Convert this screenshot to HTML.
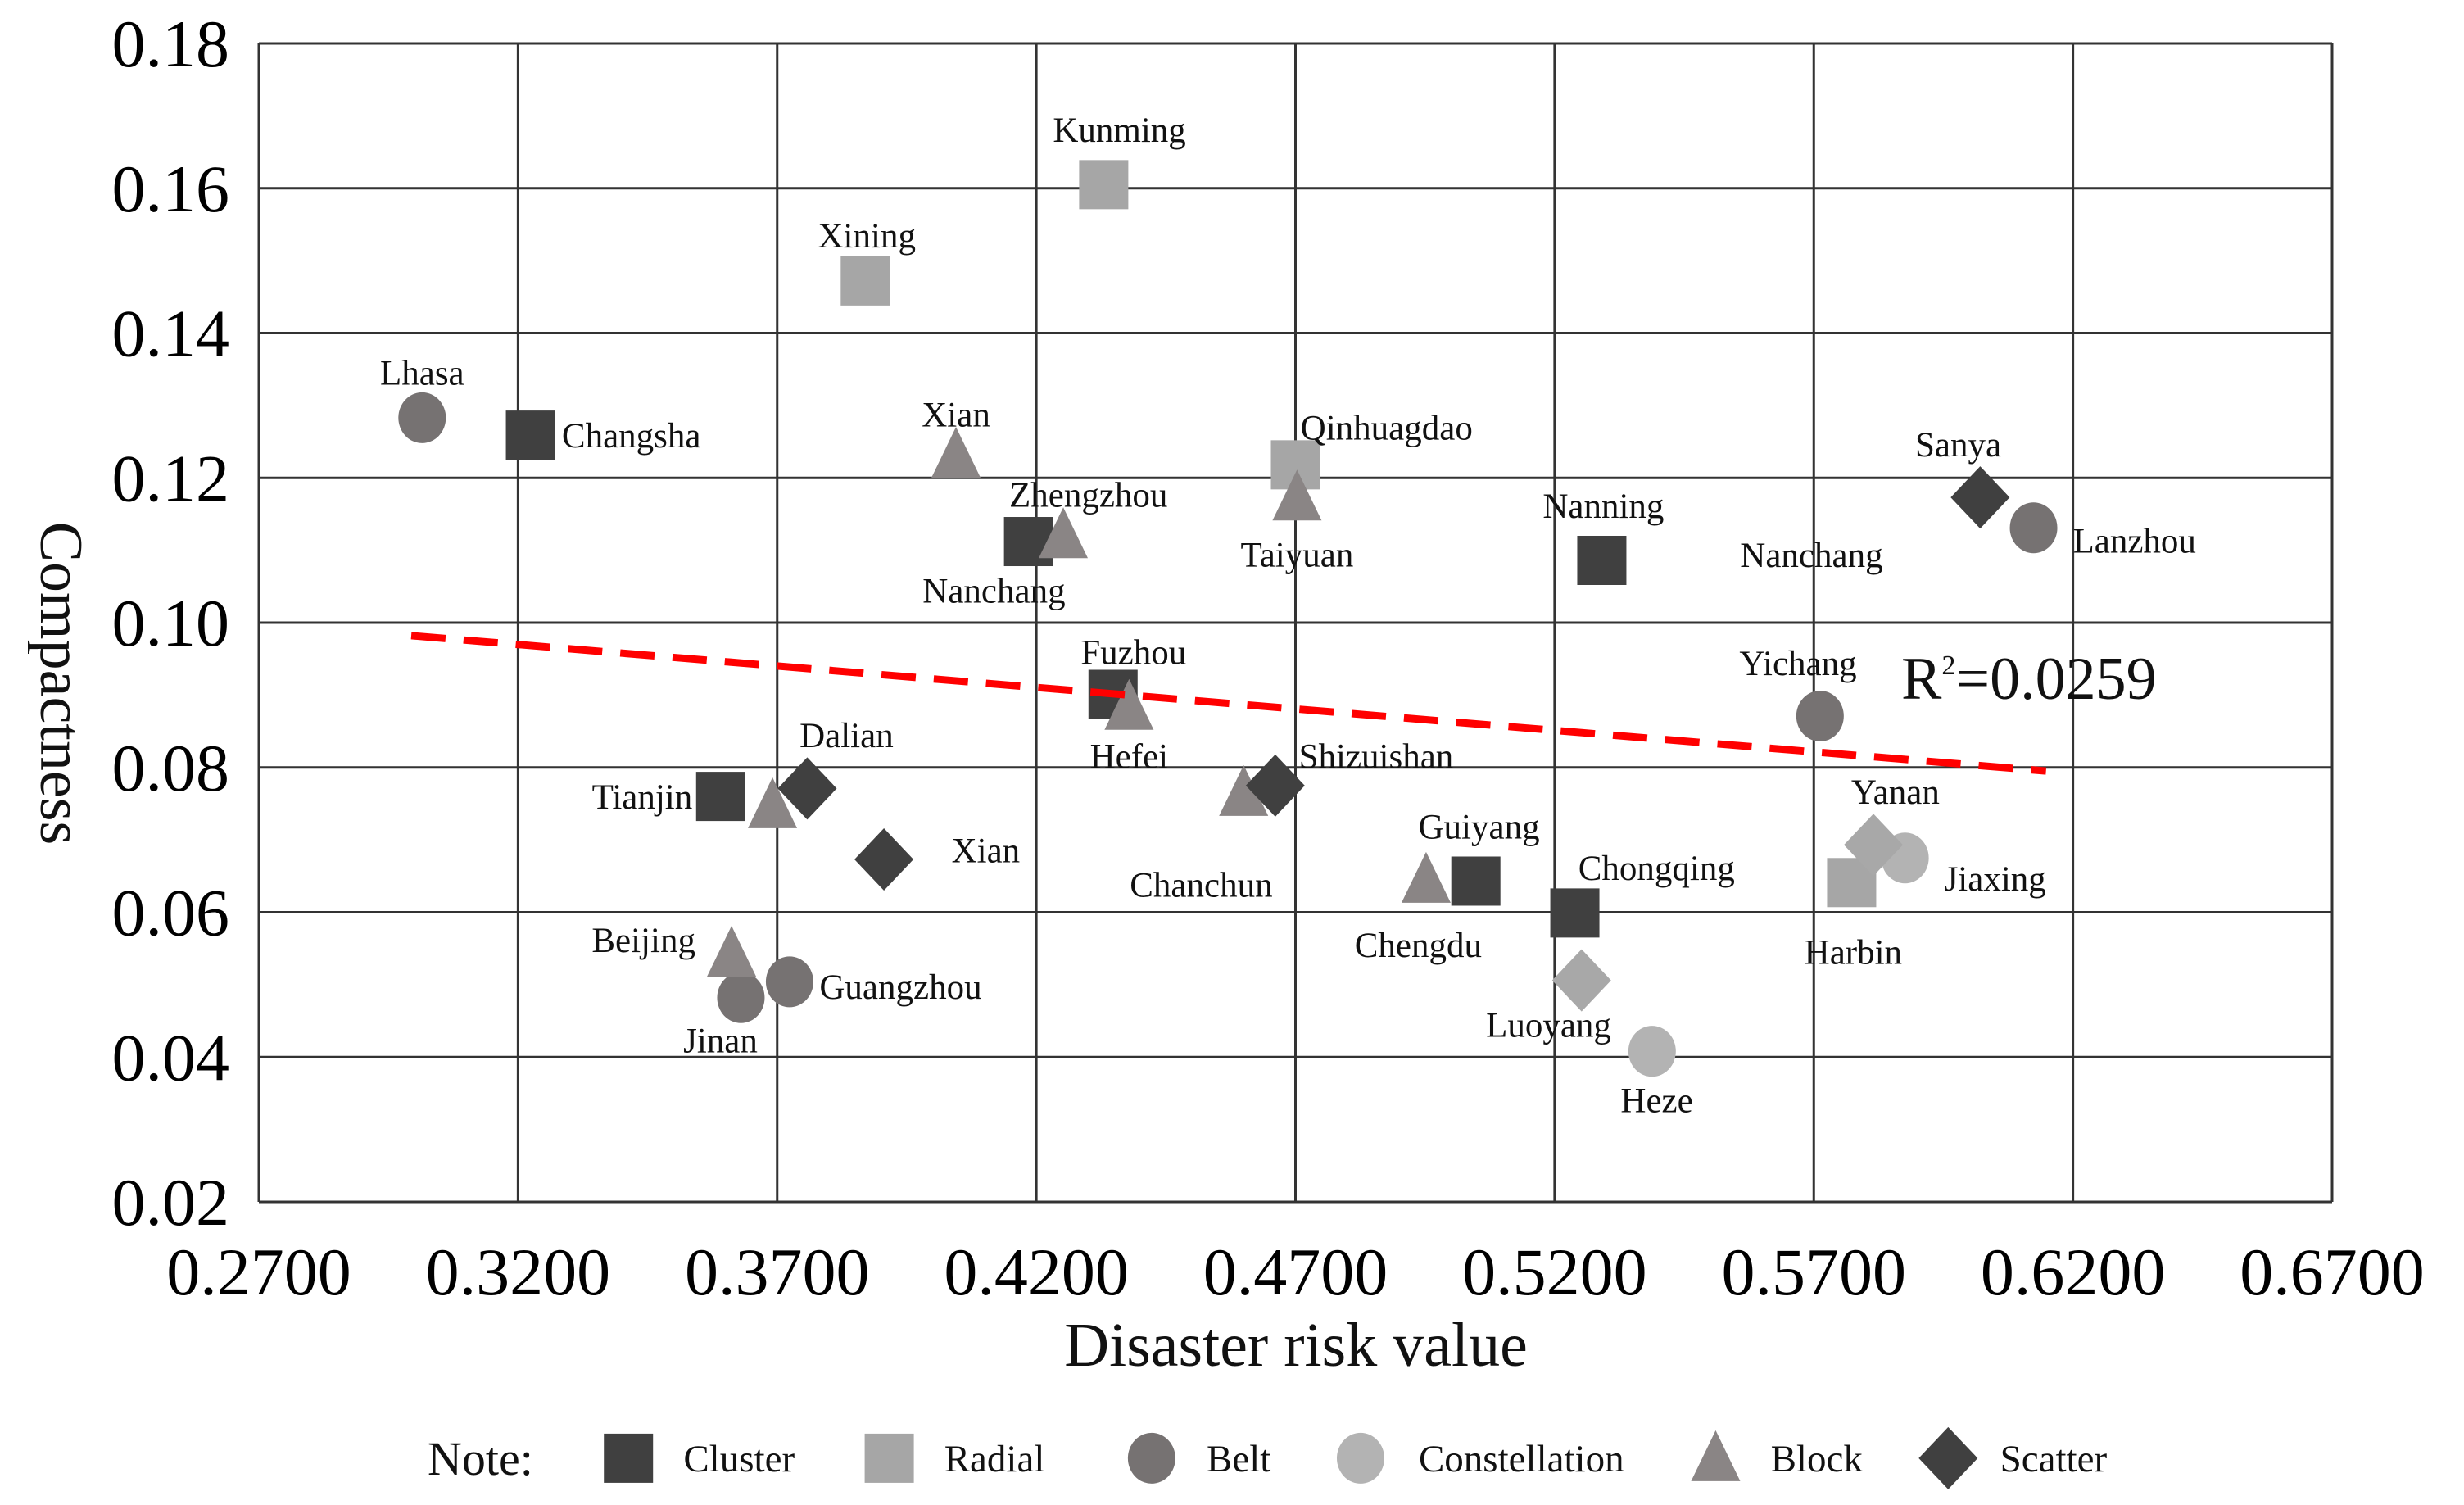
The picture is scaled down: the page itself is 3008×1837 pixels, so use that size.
<!DOCTYPE html>
<html><head><meta charset="utf-8"><style>
html,body{margin:0;padding:0;background:#fff;}
svg{display:block;font-family:"Liberation Serif",serif;}
</style></head><body>
<svg id="chart" width="3008" height="1837" viewBox="0 0 3008 1837" xmlns="http://www.w3.org/2000/svg"></svg>
<script>
// ---- data ----
const xTicks = [0.27,0.32,0.37,0.42,0.47,0.52,0.57,0.62,0.67];
const xTickLabels = ["0.2700","0.3200","0.3700","0.4200","0.4700","0.5200","0.5700","0.6200","0.6700"];
const yTicks = [0.02,0.04,0.06,0.08,0.10,0.12,0.14,0.16,0.18];
const yTickLabels = ["0.02","0.04","0.06","0.08","0.10","0.12","0.14","0.16","0.18"];
const cityNames = ["Changsha","Nanchang","Nanning","Fuzhou","Tianjin","Guiyang","Chongqing",
 "Kunming","Xining","Qinhuagdao","Harbin",
 "Lhasa","Lanzhou","Yichang","Jinan","Guangzhou",
 "Jiaxing","Heze","Luoyang","Yanan",
 "Xian","Zhengzhou","Taiyuan","Hefei","Chanchun","","Chengdu","Beijing",
 "Dalian","Xian","Shizuishan","Sanya"];
const cityTypes = ["Cluster","Cluster","Cluster","Cluster","Cluster","Cluster","Cluster",
 "Radial","Radial","Radial","Radial",
 "Belt","Belt","Belt","Belt","Belt",
 "Constellation","Constellation","ConstellationD","ConstellationD",
 "Block","Block","Block","Block","Block","Block","Block","Block",
 "Scatter","Scatter","Scatter","Scatter"];
const riskValues = [0.3224,0.4185,0.5291,0.4348,0.3591,0.5048,0.5239,
 0.4330,0.3870,0.4700,0.5773,
 0.3015,0.6124,0.5712,0.3630,0.3724,
 0.5876,0.5388,0.5252,0.5815,
 0.4045,0.4252,0.4703,0.4379,0.4600,0.3691,0.4952,0.3612,
 0.3758,0.3906,0.4661,0.6021];
const compactValues = [0.1259,0.1112,0.1086,0.0901,0.0760,0.0643,0.0599,
 0.1605,0.1472,0.1218,0.0641,
 0.1283,0.1131,0.0871,0.0482,0.0504,
 0.0675,0.0408,0.0506,0.0693,
 0.1225,0.1114,0.1166,0.0877,0.0758,0.0741,0.0638,0.0536,
 0.0771,0.0673,0.0775,0.1173];
const trendX = [0.2994,0.6148];
const trendY = [0.0982,0.0795];
const rSquared = "0.0259";
// label offsets relative to marker (style), [dx, dy, anchor]
const labelOffsets = [[20,0,"start"],[-22,31,"middle"],[1,-35,"middle"],[13,-27,"middle"],[-18,0,"end"],[2,-35,"middle"],[52,-29,"middle"],
 [10,-35,"middle"],[1,-29,"middle"],[58,-24,"middle"],[1,44,"middle"],
 [0,-29,"middle"],[25,8,"start"],[-14,-34,"middle"],[-13,27,"middle"],[19,3,"start"],
 [25,13,"start"],[3,31,"middle"],[-21,28,"middle"],[14,-34,"middle"],
 [0,-29,"middle"],[16,-29,"middle"],[0,33,"middle"],[0,28,"middle"],[-27,55,"middle"],[0,0,"middle"],[-5,38,"middle"],[-23,-12,"end"],
 [25,-34,"middle"],[43,-6,"start"],[15,-19,"start"],[-14,-34,"middle"]];

// ---- layout ----
const S = 1.918;
const L=316, R=2847, T=53, B=1467;
const xs = v => L + (v-0.27)/0.40*(R-L);
const ys = v => B - (v-0.02)/0.16*(B-T);
const svg = document.getElementById('chart');
const NS = "http://www.w3.org/2000/svg";
function mk(tag, attrs, parent){ const e=document.createElementNS(NS,tag); for(const k in attrs) e.setAttribute(k,attrs[k]); (parent||svg).appendChild(e); return e; }
const colors = {Cluster:"#404040",Radial:"#a6a6a6",Belt:"#767272",Constellation:"#b3b3b3",ConstellationD:"#a8a8a8",Block:"#8a8585",Scatter:"#404040"};
const shapes = {Cluster:"square",Radial:"square",Belt:"circle",Constellation:"circle",ConstellationD:"diamond",Block:"triangle",Scatter:"diamond"};
function marker(shape, cx, cy, color, g){
  let e;
  if(shape==="square") e=mk('rect',{x:cx-30,y:cy-30,width:60,height:60,fill:color},g);
  else if(shape==="circle") e=mk('ellipse',{cx:cx,cy:cy,rx:29,ry:31,fill:color},g);
  else if(shape==="triangle") e=mk('polygon',{points:`${cx},${cy-40} ${cx+30},${cy+22} ${cx-30},${cy+22}`,fill:color},g);
  else e=mk('polygon',{points:`${cx},${cy-38} ${cx+36},${cy} ${cx},${cy+38} ${cx-36},${cy}`,fill:color},g);
  return e;
}

// grid
const grid = mk('g',{});


xTicks.forEach((t,i)=>{
  const ln=mk('line',{x1:xs(t),x2:xs(t),y1:T,y2:B,stroke:"#333",'stroke-width':3},grid);
  
  
  const tx=mk('text',{x:xs(t),y:1580,'text-anchor':'middle','font-size':82,fill:'#000'});
  tx.textContent=xTickLabels[i];
  
  
});
yTicks.forEach((t,i)=>{
  const ln=mk('line',{x1:L,x2:R,y1:ys(t),y2:ys(t),stroke:"#333",'stroke-width':3},grid);
  
  
  const tx=mk('text',{x:280,y:ys(t)+28,'text-anchor':'end','font-size':82,fill:'#000'});
  tx.textContent=yTickLabels[i];
  
  
});

// points
const pts = mk('g',{});


riskValues.forEach((v,i)=>{
  const t=cityTypes[i];
  const cx=xs(v), cy=ys(compactValues[i]);
  const m=marker(shapes[t],cx,cy,colors[t],pts);
  
  
  if(cityNames[i]){
    const o=labelOffsets[i];
    const tx=mk('text',{x:cx+o[0]*S,y:cy+o[1]*S+15,'text-anchor':o[2],'font-size':43,fill:'#111'});
    tx.textContent=cityNames[i];
    
    
  }
});
// extra floating label
const nl=mk('text',{x:1153*S,y:353*S+15,'text-anchor':'middle','font-size':43,fill:'#111'});
nl.textContent="Nanchang";



// trend line
const tl=mk('line',{x1:xs(trendX[0]),y1:ys(trendY[0]),x2:xs(trendX[1]),y2:ys(trendY[1]),stroke:'#f00','stroke-width':9,'stroke-dasharray':'42 22'});


const r2=mk('text',{x:2321,y:853,'font-size':74,fill:'#111'});
r2.innerHTML='R<tspan font-size="34" dy="-30">2</tspan><tspan dy="30">='+rSquared+'</tspan>';



// axis titles
const xt=mk('text',{x:1582,y:1667,'text-anchor':'middle','font-size':76,fill:'#111'});
xt.textContent="Disaster risk value";


const yt=mk('text',{x:0,y:0,'text-anchor':'middle','font-size':74,fill:'#111',transform:'translate(50,834) rotate(90)'});
yt.textContent="Compactness";



// legend
const lg=mk('g',{});


const legendNames=["Cluster","Radial","Belt","Constellation","Block","Scatter"];
const legendShapeX=[400,566,733,866,1092,1240];
const legendTextX=[435,601,768,903,1127,1273];
const ly=928*S;
const note=mk('text',{x:522,y:ly+20,'font-size':58,fill:'#111'},lg);
note.textContent="Note:";


legendNames.forEach((n,i)=>{
  const m=marker(shapes[n],legendShapeX[i]*S,ly+(shapes[n]==="triangle"?6:0),colors[n],lg);
  
  
  const tx=mk('text',{x:legendTextX[i]*S,y:ly+16,'font-size':47,fill:'#111'},lg);
  tx.textContent=n;
  
  
});
</script>
</body></html>
